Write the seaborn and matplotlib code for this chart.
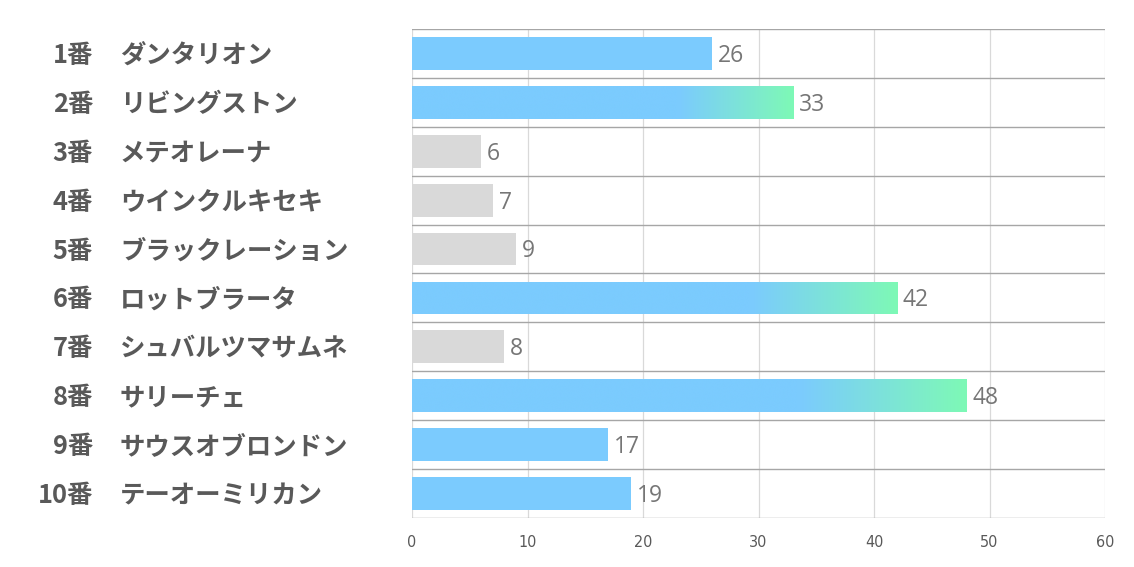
import numpy as np
import pandas as pd
import matplotlib
matplotlib.use("Agg")
import matplotlib.pyplot as plt
import seaborn as sns
from matplotlib.colors import LinearSegmentedColormap
from matplotlib.transforms import blended_transform_factory

numbers = ["1番", "2番", "3番", "4番", "5番", "6番", "7番", "8番", "9番", "10番"]
names = ["ダンタリオン", "リビングストン", "メテオレーナ", "ウインクルキセキ", "ブラックレーション",
         "ロットブラータ", "シュバルツマサムネ", "サリーチェ", "サウスオブロンドン", "テーオーミリカン"]
values = [26, 33, 6, 7, 9, 42, 8, 48, 17, 19]
groups = ["blue", "gradient", "gray", "gray", "gray", "gradient", "gray", "gradient", "blue", "blue"]
xticks = [0, 10, 20, 30, 40, 50, 60]

BLUE = "#7BCBFE"
GREEN = "#7EF9B6"
GRAY = "#D9D9D9"
palette = {"blue": BLUE, "gradient": BLUE, "gray": GRAY}

df = pd.DataFrame({"label": [n + "_" + m for n, m in zip(numbers, names)],
                   "value": values, "group": groups})

sns.set_theme(style="white")
plt.rcParams["font.family"] = ["Noto Sans CJK JP", "DejaVu Sans"]

fig = plt.figure(figsize=(11.34, 5.67), dpi=100)
ax = fig.add_axes([412 / 1134, 1 - 518 / 567, (1105 - 412) / 1134, (518 - 29) / 567])

sns.barplot(data=df, y="label", x="value", hue="group", palette=palette,
            orient="h", width=0.67, dodge=False, legend=False, ax=ax, zorder=2,
            saturation=1, linewidth=0, edgecolor="none")

ax.set_xlim(0, 60)
ax.set_ylim(len(values) - 0.5, -0.5)
ax.set_xticks(xticks)
ax.set_xticklabels([str(t) for t in xticks], fontsize=11.5, color="#595959",
                   family=["DejaVu Sans"], fontstretch="condensed")
ax.tick_params(axis="x", length=0, pad=12)
ax.set_yticks(range(len(values)))
ax.set_yticklabels([])
ax.tick_params(axis="y", length=0)
ax.set_xlabel("")
ax.set_ylabel("")
for s in ax.spines.values():
    s.set_visible(False)

# vertical gridlines
for t in xticks:
    ax.axvline(t, color="#D9D9D9", lw=0.9, zorder=1)
# horizontal row separators
for k in range(len(values) + 1):
    ax.axhline(k - 0.5, color="#A6A6A6", lw=1.0, zorder=1)

# gradient overlay for selected bars
grad_positions = [0.0, 0.7, 1.0]
cmap = LinearSegmentedColormap.from_list("bg", list(zip(grad_positions, [BLUE, BLUE, GREEN])))
grad = np.linspace(0, 1, 256).reshape(1, -1)
bars = sorted([p for p in ax.patches if p.get_width() > 0], key=lambda p: p.get_y())
for p, g in zip(bars, groups):
    if g == "gradient":
        x0, y0, w, h = p.get_x(), p.get_y(), p.get_width(), p.get_height()
        im = ax.imshow(grad, cmap=cmap, aspect="auto", extent=(x0, x0 + w, y0 + h, y0),
                       zorder=3, interpolation="bicubic")
        im.set_clip_path(p)
ax.set_xlim(0, 60)
ax.set_ylim(len(values) - 0.5, -0.5)

# value labels
for i, v in enumerate(values):
    ax.text(v + 0.5, i + 0.05, str(v), va="center", ha="left", fontsize=16.5,
            color="#767676", family=["Open Sans", "DejaVu Sans"], zorder=4)

# left category labels
tr = blended_transform_factory(fig.transFigure, ax.transData)
for i, (n, m) in enumerate(zip(numbers, names)):
    ax.text(93 / 1134, i + 0.04, n, transform=tr, ha="right", va="center", fontsize=18.3,
            fontweight="bold", color="#595959", clip_on=False)
    ax.text(120 / 1134, i + 0.04, m, transform=tr, ha="left", va="center", fontsize=18.3,
            fontweight="bold", color="#595959", clip_on=False)

fig.savefig("out.png", dpi=100, facecolor="white")
